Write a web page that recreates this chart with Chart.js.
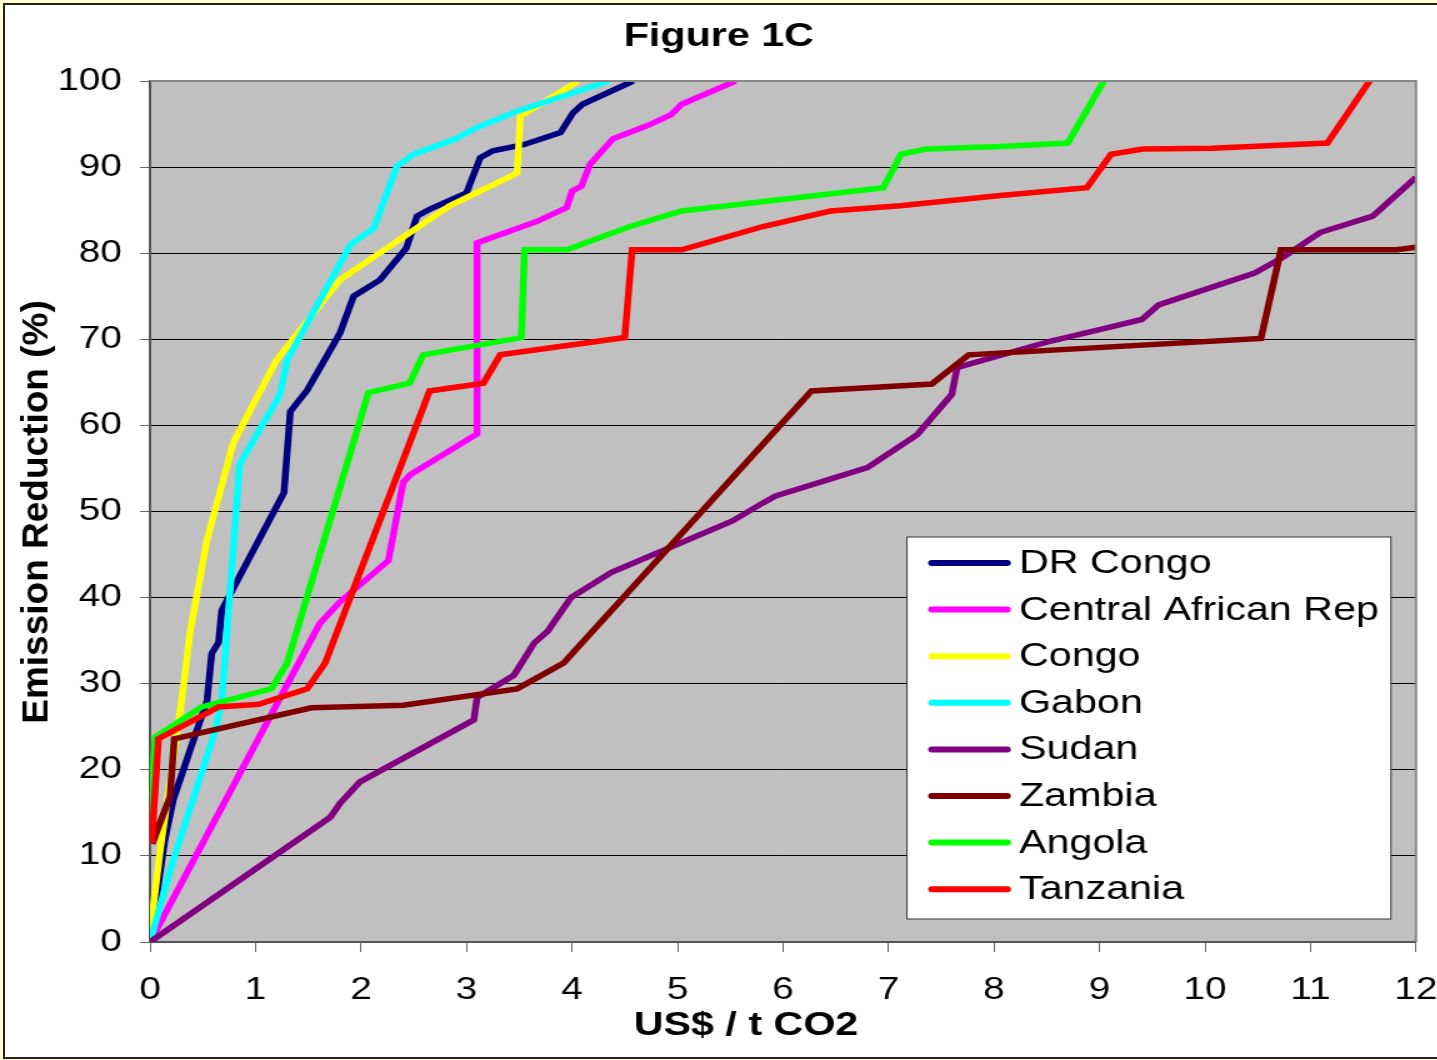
<!DOCTYPE html>
<html>
<head>
<meta charset="utf-8">
<title>Figure 1C</title>
<script src="https://cdn.jsdelivr.net/npm/chart.js@4.4.1/dist/chart.umd.min.js"></script>
<style>
  html, body { margin: 0; padding: 0; }
  body { width: 1437px; height: 1060px; background: #ffffcc; overflow: hidden; position: relative; }
  #frame { position: absolute; left: 3px; top: 3px; width: 1450px; height: 1052px; background: #fff; border: 2px solid #222; }
  /* the original picture is stretched sideways, so the canvas is too */
  #wrap { position: absolute; left: 0; top: 0; width: 1150px; height: 1060px; transform: scaleX(1.25); transform-origin: 0 0; }
</style>
</head>
<body>
<div id="frame"></div>
<div id="wrap"><canvas id="chart" width="1150" height="1060"></canvas></div>
<script>
const S = 1.25;
const FONT = '"Liberation Sans", Arial, sans-serif';

const seriesNames = ['DR Congo', 'Central African Rep', 'Congo', 'Gabon', 'Sudan', 'Zambia', 'Angola', 'Tanzania'];
const seriesColors = ['#000080', '#ff00ff', '#ffff00', '#00ffff', '#800080', '#800000', '#00ff00', '#ff0000'];

// US$ / t CO2 and emission reduction (%) per country
const drCongoCost = [0, 0.14, 0.22, 0.38, 0.54, 0.585, 0.65, 0.68, 0.85, 1.27, 1.33, 1.49, 1.8, 1.93, 2.18, 2.43, 2.53, 2.65, 3.0, 3.13, 3.25, 3.54, 3.89, 4.01, 4.1, 4.58];
const drCongoCut = [0, 11.8, 16.5, 22.3, 28, 33.5, 34.8, 38.5, 42.5, 52.2, 61.6, 64.1, 70.7, 75, 76.9, 80.6, 84.3, 85.1, 87, 91.1, 91.9, 92.6, 94, 96.3, 97.3, 100];

const carCost = [0, 1.61, 1.8, 2.26, 2.4, 2.47, 3.1, 3.1, 3.67, 3.95, 4.0, 4.09, 4.17, 4.39, 4.71, 4.94, 5.04, 5.55];
const carCut = [0, 37, 39.5, 44.3, 53.4, 54.3, 59, 81.2, 83.7, 85.3, 87.2, 87.8, 90.3, 93.3, 94.8, 96.1, 97.3, 100];

const congoCost = [0, 0.1, 0.2, 0.3, 0.38, 0.54, 0.79, 1.2, 1.8, 2.84, 3.48, 3.51, 4.06];
const congoCut = [1, 11, 19.5, 28, 36, 46.7, 58, 67.6, 76.9, 85.5, 89.3, 95.9, 100];

const gabonCost = [0, 0.2, 0.62, 0.68, 0.85, 1.23, 1.3, 1.9, 2.12, 2.34, 2.5, 2.88, 3.1, 3.48, 4.35];
const gabonCut = [0, 8.7, 24.6, 28, 55.5, 63.5, 67.6, 81, 82.9, 90.1, 91.5, 93.2, 94.6, 96.5, 100];

const sudanCost = [0, 1.71, 1.8, 1.99, 3.07, 3.1, 3.45, 3.64, 3.77, 3.99, 4.37, 5.52, 5.81, 5.93, 6.8, 7.27, 7.6, 7.65, 7.79, 8.54, 9.06, 9.4, 9.56, 10.47, 10.75, 11.09, 11.59, 12];
const sudanCut = [0, 14.5, 16.1, 18.6, 25.8, 28.4, 31, 34.7, 36.1, 40, 42.9, 48.9, 51, 51.8, 55.1, 58.9, 63.6, 66.7, 67.2, 69.8, 71.3, 72.3, 74, 77.7, 79.6, 82.4, 84.3, 88.8];

const zambiaCost = [0.02, 0.19, 0.23, 1.53, 2.4, 3.48, 3.92, 6.27, 7.41, 7.76, 10.53, 10.72, 11.82, 12];
const zambiaCut = [11.4, 16.9, 23.6, 27.2, 27.5, 29.4, 32.4, 64, 64.8, 68.2, 70.1, 80.4, 80.4, 80.7];

const angolaCost = [0, 0.05, 0.49, 1.15, 1.3, 2.07, 2.46, 2.59, 3.52, 3.55, 3.95, 4.55, 5.04, 6.95, 7.12, 7.36, 8.06, 8.7, 9.04];
const angolaCut = [14, 23.8, 27.3, 29.4, 32.4, 63.8, 64.9, 68.2, 70.2, 80.4, 80.4, 83.1, 84.9, 87.6, 91.5, 92.1, 92.4, 92.8, 100];

const tanzaniaCost = [0.016, 0.08, 0.65, 1.03, 1.49, 1.66, 2.65, 3.16, 3.32, 4.5, 4.57, 5.04, 5.81, 6.45, 7.11, 8.06, 8.88, 9.11, 9.41, 10.07, 11.16, 11.56];
const tanzaniaCut = [11.5, 23.6, 27.3, 27.6, 29.4, 32.4, 64, 64.9, 68.2, 70.2, 80.4, 80.4, 83.1, 84.9, 85.5, 86.7, 87.6, 91.5, 92.1, 92.2, 92.8, 100];

const costs = [drCongoCost, carCost, congoCost, gabonCost, sudanCost, zambiaCost, angolaCost, tanzaniaCost];
const cuts = [drCongoCut, carCut, congoCut, gabonCut, sudanCut, zambiaCut, angolaCut, tanzaniaCut];

const datasets = seriesNames.map((name, i) => ({
  label: name,
  data: costs[i].map((x, j) => ({ x: x, y: cuts[i][j] })),
  borderColor: seriesColors[i],
  backgroundColor: seriesColors[i],
  borderWidth: 5.5,
  borderJoinStyle: 'miter',
  pointRadius: 0,
  tension: 0,
  fill: false,
  order: seriesNames.length - i   // later series on top, like the original
}));

const chartParts = {
  id: 'chartParts',
  beforeDraw(chart) {
    const { ctx, chartArea: a } = chart;
    ctx.save();
    ctx.fillStyle = '#c0c0c0';
    ctx.fillRect(a.left, a.top, a.right - a.left, a.bottom - a.top);
    ctx.restore();
  },
  afterDatasetsDraw(chart) {
    const { ctx, chartArea: a } = chart;
    ctx.save();
    ctx.strokeStyle = '#888';
    ctx.lineWidth = 2;
    ctx.beginPath();
    ctx.moveTo(a.left, a.top);
    ctx.lineTo(a.right, a.top);
    ctx.lineTo(a.right, a.bottom);
    ctx.stroke();
    ctx.restore();
  },
  afterDraw(chart) {
    const ctx = chart.ctx;
    ctx.save();

    // legend box
    ctx.fillStyle = '#fff';
    ctx.fillRect(725.6, 537, 387.2, 382);
    ctx.strokeStyle = '#333';
    ctx.lineWidth = 1;
    ctx.strokeRect(725.6, 537, 387.2, 382);
    ctx.font = '33px ' + FONT;
    ctx.textAlign = 'left';
    ctx.textBaseline = 'middle';
    chart.data.datasets.forEach((ds, i) => {
      const y = 563 + i * 46.6;
      ctx.strokeStyle = ds.borderColor;
      ctx.lineWidth = 6;
      ctx.lineCap = 'round';
      ctx.beginPath();
      ctx.moveTo(745.5, y);
      ctx.lineTo(805.7, y);
      ctx.stroke();
      ctx.fillStyle = '#000';
      ctx.fillText(ds.label, 815.2, y + 1);
    });

    // x axis title
    ctx.font = 'bold 33px ' + FONT;
    ctx.textAlign = 'center';
    ctx.fillStyle = '#000';
    ctx.fillText('US$ / t CO2', 596.8, 1026);

    // y axis title, undo the sideways stretch for the turned text
    ctx.translate(29.6, 512);
    ctx.scale(1 / S, 1);
    ctx.rotate(-Math.PI / 2);
    ctx.font = 'bold 37px ' + FONT;
    ctx.fillText('Emission Reduction (%)', 0, 0);
    ctx.restore();
  }
};

const ctx = document.getElementById('chart').getContext('2d');
new Chart(ctx, {
  type: 'line',
  data: { datasets },
  plugins: [chartParts],
  options: {
    responsive: false,
    animation: false,
    devicePixelRatio: 1,
    layout: { padding: 0 },
    plugins: {
      legend: { display: false },
      tooltip: { enabled: false },
      title: {
        display: true,
        text: 'Figure 1C',
        color: '#000',
        font: { family: FONT, size: 33, weight: 'bold', lineHeight: 1.2 },
        padding: { top: 17, bottom: 24.4 }
      }
    },
    scales: {
      x: {
        type: 'linear',
        min: 0,
        max: 12,
        ticks: { stepSize: 1, color: '#000', font: { family: FONT, size: 31 }, padding: 20, maxRotation: 0, autoSkip: false },
        grid: { drawOnChartArea: false, drawTicks: true, tickLength: 10, tickColor: '#666' },
        border: { color: '#555', width: 2 },
        afterFit: s => { s.height = 118; s.paddingRight = 17.2; s.paddingLeft = 0; }
      },
      y: {
        min: 0,
        max: 100,
        ticks: { stepSize: 10, color: '#000', font: { family: FONT, size: 31 }, padding: 14.4 },
        grid: { color: '#000', lineWidth: 1, tickLength: 8, tickColor: '#666' },
        border: { color: '#555', width: 2 },
        afterFit: s => { s.width = 120; }
      }
    }
  }
});
</script>
</body>
</html>
